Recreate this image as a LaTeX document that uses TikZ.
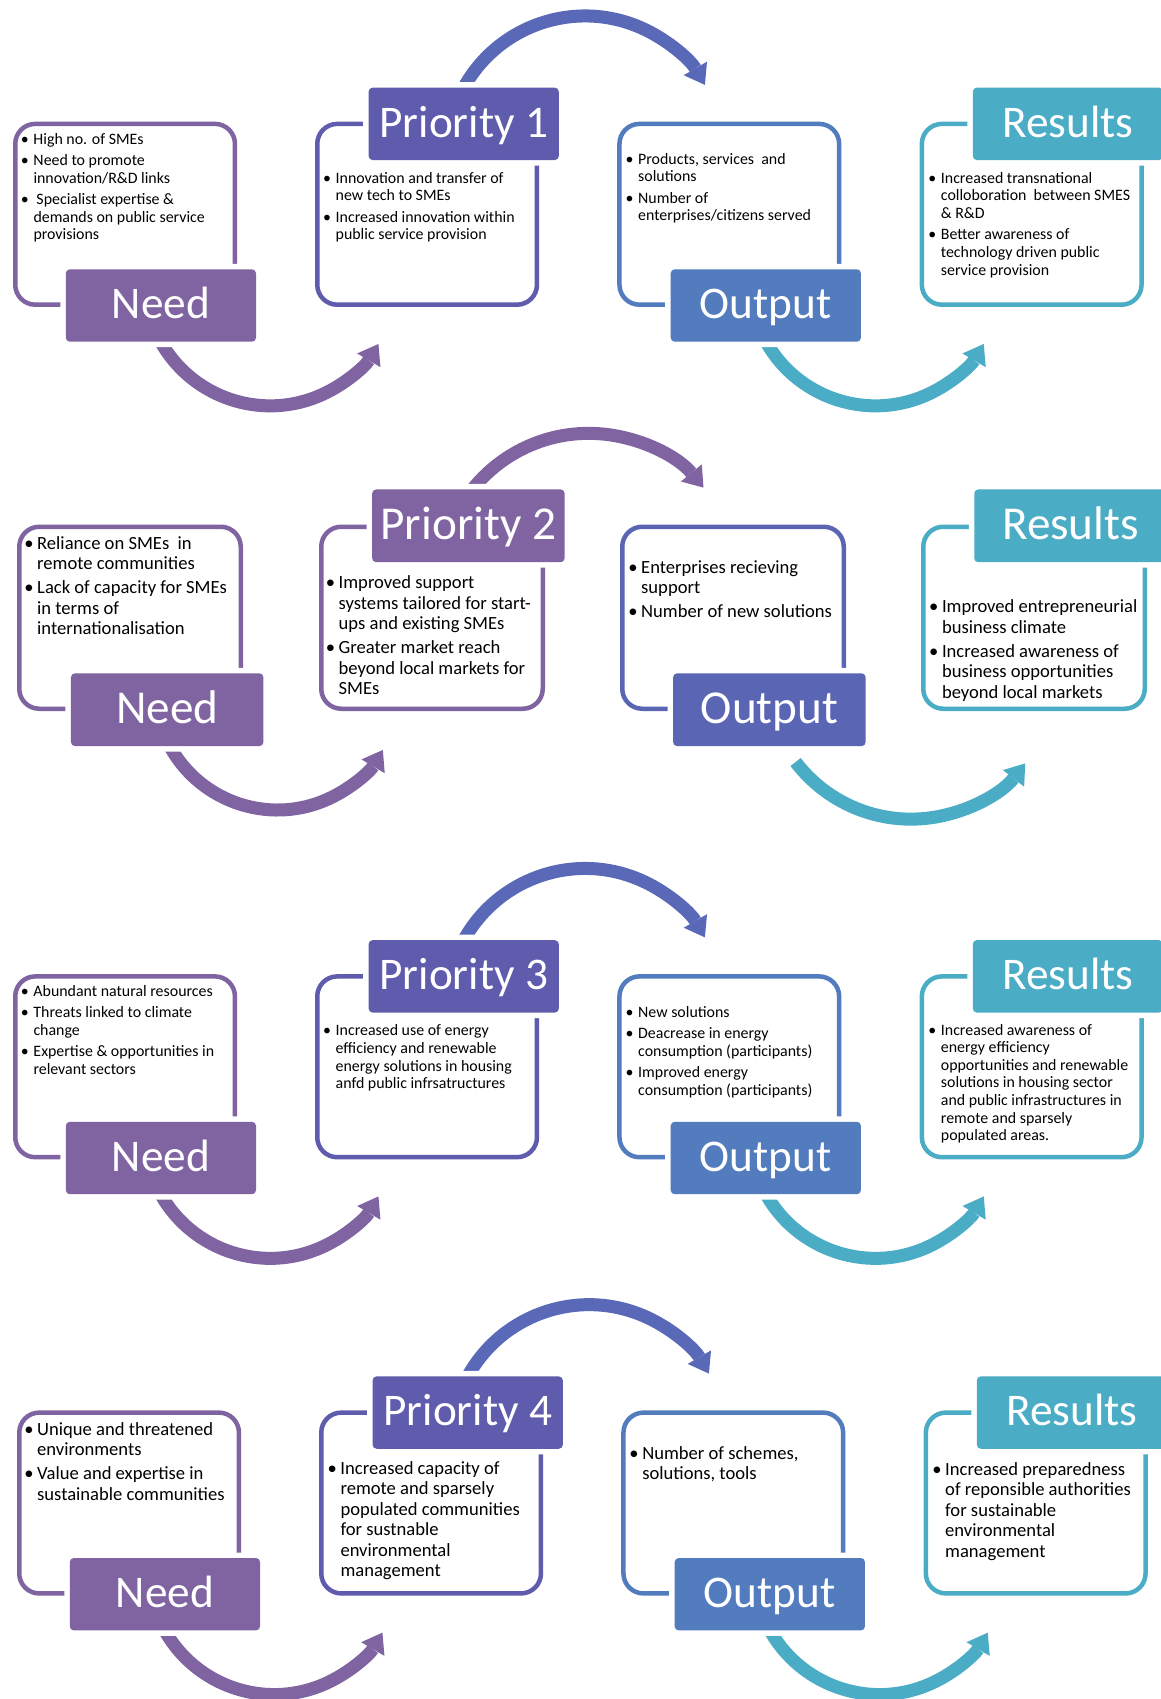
\documentclass[tikz,border=0pt]{standalone}
\usepackage{fontspec}
\setmainfont{Carlito}
\usetikzlibrary{arrows.meta}
\definecolor{cpurple}{HTML}{8064A2}
\definecolor{cviolet}{HTML}{5F5BAD}
\definecolor{cblue}{HTML}{527CBE}
\definecolor{cmid}{HTML}{5A69B7}
\definecolor{cbluev}{HTML}{5A66B4}
\definecolor{caqua}{HTML}{4BACC6}
\newlength{\bulw}\setlength{\bulw}{10.5pt}
\newlength{\igap}
\newcommand{\myitem}[1]{\makebox[\bulw][l]{\hspace{-0.13em}•}&#1}
\newcommand{\mycont}[1]{&#1}
\newcommand{\smallbody}{\fontsize{15.9}{17.6}\selectfont\setlength{\igap}{3.8pt}}
\newcommand{\bigbody}{\fontsize{18.6}{20.5}\selectfont\setlength{\igap}{3.3pt}}
\newenvironment{blist}{\begin{tabular}[t]{@{}l@{}l@{}}}{\end{tabular}}
\begin{document}
\begin{tikzpicture}[x=1pt, y=-1pt,
  outl/.style={draw=#1, line width=4.5pt, rounded corners=20pt, rectangle, inner sep=0pt},
  frA/.style={minimum width=219.7pt, minimum height=180.8pt},
  frB/.style={minimum width=221.5pt, minimum height=182pt},
  headbox/.style={fill=#1, rectangle, rounded corners=4pt, text=white, inner sep=0pt, preaction={draw=white, line width=11pt}},
  hdA/.style={minimum width=190.2pt, minimum height=72.4pt, font=\fontsize{45.3}{50}\selectfont, text height=29.2pt, text depth=2.7pt},
  hdB/.style={minimum width=192.5pt, minimum height=72.8pt, font=\fontsize{47.2}{52}\selectfont, text height=30.4pt, text depth=2.8pt},
  flow/.style={draw=#1, line width=13pt, -{Triangle[length=19pt, width=27pt, line width=0pt]}},
  bodytext/.style={anchor=base west, inner sep=0pt},
  sbody/.style={bodytext, font=\smallbody},
  bbody/.style={bodytext, font=\bigbody}]
\fill[white] (0,0) rectangle (1160,1699);
\useasboundingbox (0,0) rectangle (1160,1699);

% ---------------- Row 1 ----------------
\node[outl=cpurple, frA] (need1) at (125.1,214.3) {};
\node[outl=cviolet, frA] (prio1) at (427.1,214.3) {};
\node[outl=cblue, frA] (out1) at (729.3,214.3) {};
\node[outl=caqua, frA] (res1) at (1031.7,214.3) {};
\coordinate (t1s) at (459.5,96.0);
\draw[flow=cmid] (t1s) arc[start angle=-155, end angle=-30.2, radius=138.6];
\coordinate (l1s) at (156.4,333.3);
\draw[flow=cpurple] (l1s) arc[start angle=155, end angle=30.5, radius=125.6];
\coordinate (r1s) at (761.7,333.3);
\draw[flow=caqua] (r1s) arc[start angle=155, end angle=30.5, radius=125.6];
\node[headbox=cpurple, hdA] (needl1) at (160.9,305.5) {Need};
\node[headbox=cviolet, hdA] (priol1) at (463.7,123.85) {Priority 1};
\node[headbox=cblue, hdA] (outl1) at (765.8,305.5) {Output};
\node[headbox=caqua, hdA] (resl1) at (1067.9,123.85) {Results};
\node[sbody] (needt1) at (22.8,144.1) {\begin{blist}
\myitem{High no. of SMEs}\\[\igap]
\myitem{Need to promote}\\
\mycont{innovation/R\&D links}\\[\igap]
\myitem{\hspace{3pt}Specialist expertise \&}\\
\mycont{demands on public service}\\
\mycont{provisions}
\end{blist}};
\node[sbody] (priot1) at (325,183.4) {\begin{blist}
\myitem{Innovation and transfer of}\\
\mycont{new tech to SMEs}\\[\igap]
\myitem{Increased innovation within}\\
\mycont{public service provision}
\end{blist}};
\node[sbody] (outt1) at (627.5,164.4) {\begin{blist}
\myitem{Products, services\ \ and}\\
\mycont{solutions}\\[\igap]
\myitem{Number of}\\
\mycont{enterprises/citizens served}
\end{blist}};
\node[sbody] (rest1) at (930.2,183.4) {\begin{blist}
\myitem{Increased transnational}\\
\mycont{colloboration\ \ between SMES}\\
\mycont{\& R\&D}\\[\igap]
\myitem{Better awareness of}\\
\mycont{technology driven public}\\
\mycont{service provision}
\end{blist}};

% ---------------- Row 2 ----------------
\node[outl=cpurple, frB] (need2) at (130,617.75) {};
\node[outl=cpurple, frB] (prio2) at (432,617.75) {};
\node[outl=cbluev, frB] (out2) at (733,617.75) {};
\node[outl=caqua, frB] (res2) at (1034,617.75) {};
\coordinate (t2s) at (466.9,496.7);
\draw[flow=cpurple] (t2s) arc[start angle=-145, end angle=-39.4, radius=148.6];
\coordinate (l2s) at (166.3,739.2);
\draw[flow=cpurple] (l2s) arc[start angle=155, end angle=30.7, radius=122.6];
\coordinate (r2s) at (795.6,762.0);
\draw[flow=caqua] (r2s) arc[start angle=142.7, end angle=38, radius=145];
\node[headbox=cpurple, hdB] (needl2) at (167.2,709.7) {Need};
\node[headbox=cpurple, hdB] (priol2) at (468.4,525.8) {Priority 2};
\node[headbox=cbluev, hdB] (outl2) at (769.4,709.7) {Output};
\node[headbox=caqua, hdB] (resl2) at (1070.5,525.8) {Results};
\node[bbody] (needt2) at (26.5,549.3) {\begin{blist}
\myitem{Reliance on SMEs\ \ in}\\
\mycont{remote communities}\\[\igap]
\myitem{Lack of capacity for SMEs}\\
\mycont{in terms of}\\
\mycont{internationalisation}
\end{blist}};
\node[bbody] (priot2) at (328,588.7) {\begin{blist}
\myitem{Improved support}\\
\mycont{systems tailored for start-}\\
\mycont{ups and existing SMEs}\\[\igap]
\myitem{Greater market reach}\\
\mycont{beyond local markets for}\\
\mycont{SMEs}
\end{blist}};
\node[bbody] (outt2) at (630.5,573.3) {\begin{blist}
\myitem{Enterprises recieving}\\
\mycont{support}\\[\igap]
\myitem{Number of new solutions}
\end{blist}};
\node[bbody] (rest2) at (931.3,612.7) {\begin{blist}
\myitem{Improved entrepreneurial}\\
\mycont{business climate}\\[\igap]
\myitem{Increased awareness of}\\
\mycont{business opportunities}\\
\mycont{beyond local markets}
\end{blist}};

% ---------------- Row 3 ----------------
\node[outl=cpurple, frA] (need3) at (125.1,1066.8) {};
\node[outl=cviolet, frA] (prio3) at (427.1,1066.8) {};
\node[outl=cblue, frA] (out3) at (729.3,1066.8) {};
\node[outl=caqua, frA] (res3) at (1031.7,1066.8) {};
\coordinate (t3s) at (459.5,948.5);
\draw[flow=cmid] (t3s) arc[start angle=-155, end angle=-30.2, radius=138.6];
\coordinate (l3s) at (156.4,1185.8);
\draw[flow=cpurple] (l3s) arc[start angle=155, end angle=30.5, radius=125.6];
\coordinate (r3s) at (761.7,1185.8);
\draw[flow=caqua] (r3s) arc[start angle=155, end angle=30.5, radius=125.6];
\node[headbox=cpurple, hdA] (needl3) at (160.9,1158) {Need};
\node[headbox=cviolet, hdA] (priol3) at (463.7,976.35) {Priority 3};
\node[headbox=cblue, hdA] (outl3) at (765.8,1158) {Output};
\node[headbox=caqua, hdA] (resl3) at (1067.9,976.35) {Results};
\node[sbody] (needt3) at (22.8,996.1) {\begin{blist}
\myitem{Abundant natural resources}\\[\igap]
\myitem{Threats linked to climate}\\
\mycont{change}\\[\igap]
\myitem{Expertise \& opportunities in}\\
\mycont{relevant sectors}
\end{blist}};
\node[sbody] (priot3) at (325,1035.8) {\begin{blist}
\myitem{Increased use of energy}\\
\mycont{efficiency and renewable}\\
\mycont{energy solutions in housing}\\
\mycont{anfd public infrsatructures}
\end{blist}};
\node[sbody] (outt3) at (627.5,1017.4) {\begin{blist}
\myitem{New solutions}\\[\igap]
\myitem{Deacrease in energy}\\
\mycont{consumption (participants)}\\[\igap]
\myitem{Improved energy}\\
\mycont{consumption (participants)}
\end{blist}};
\node[sbody] (rest3) at (930.2,1035.1) {\begin{blist}
\myitem{Increased awareness of}\\
\mycont{energy efficiency}\\
\mycont{opportunities and renewable}\\
\mycont{solutions in housing sector}\\
\mycont{and public infrastructures in}\\
\mycont{remote and sparsely}\\
\mycont{populated areas.}
\end{blist}};

% ---------------- Row 4 ----------------
\node[outl=cpurple, frA] (need4) at (129.1,1503) {};
\node[outl=cviolet, frA] (prio4) at (431.1,1503) {};
\node[outl=cblue, frA] (out4) at (733.3,1503) {};
\node[outl=caqua, frA] (res4) at (1035.7,1503) {};
\coordinate (t4s) at (463.5,1384.7);
\draw[flow=cmid] (t4s) arc[start angle=-155, end angle=-30.2, radius=138.6];
\coordinate (l4s) at (160.4,1622);
\draw[flow=cpurple] (l4s) arc[start angle=155, end angle=30.5, radius=125.6];
\coordinate (r4s) at (765.7,1622);
\draw[flow=caqua] (r4s) arc[start angle=155, end angle=30.5, radius=125.6];
\node[headbox=cpurple, hdA] (needl4) at (164.9,1594.2) {Need};
\node[headbox=cviolet, hdA] (priol4) at (467.7,1412.55) {Priority 4};
\node[headbox=cblue, hdA] (outl4) at (769.8,1594.2) {Output};
\node[headbox=caqua, hdA] (resl4) at (1071.9,1412.55) {Results};
\node[bbody] (needt4) at (26.5,1435.3) {\begin{blist}
\myitem{Unique and threatened}\\
\mycont{environments}\\[\igap]
\myitem{Value and expertise in}\\
\mycont{sustainable communities}
\end{blist}};
\node[bbody] (priot4) at (329.8,1474.3) {\begin{blist}
\myitem{Increased capacity of}\\
\mycont{remote and sparsely}\\
\mycont{populated communities}\\
\mycont{for sustnable}\\
\mycont{environmental}\\
\mycont{management}
\end{blist}};
\node[bbody] (outt4) at (631.6,1459.3) {\begin{blist}
\myitem{Number of schemes,}\\
\mycont{solutions, tools}
\end{blist}};
\node[bbody] (rest4) at (934.5,1475) {\begin{blist}
\myitem{Increased preparedness}\\
\mycont{of reponsible authorities}\\
\mycont{for sustainable}\\
\mycont{environmental}\\
\mycont{management}
\end{blist}};
\end{tikzpicture}
\end{document}
